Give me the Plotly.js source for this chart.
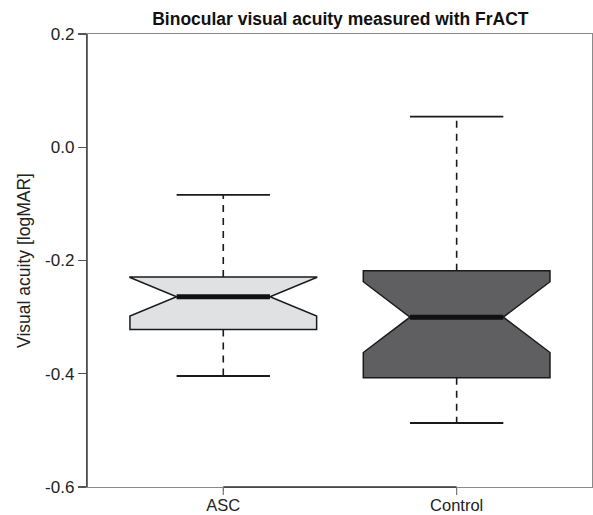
<!DOCTYPE html>
<html>
<head>
<meta charset="utf-8">
<script src="https://cdn.plot.ly/plotly-3.0.1.min.js"></script>
<style>html,body{margin:0;padding:0;background:#fff;}#chart{width:593px;height:515px;}</style>
</head>
<body>
<div id="chart"></div>
<script>
var categories = ['ASC', 'Control'];
var positions = [0, 1];
var q1 = [-0.322, -0.407];
var medians = [-0.264, -0.300];
var q3 = [-0.229, -0.218];
var lowerWhisker = [-0.404, -0.487];
var upperWhisker = [-0.084, 0.054];
var notchHalf = [0.034, 0.0625];
var fillColors = ['#e0e1e3', '#5f5f61'];
var yTickVals = [-0.6, -0.4, -0.2, 0.0, 0.2];
var yTickText = ['-0.6', '-0.4', '-0.2', '0.0', '0.2'];

var boxWidth = 0.8;
var halfInner = boxWidth / 4;
var lineCol = '#1a1a1a';
var traces = [];

categories.forEach(function (c, i) {
  var p = positions[i];
  traces.push({
    type: 'box', x: [p], q1: [q1[i]], median: [medians[i]], q3: [q3[i]],
    lowerfence: [q1[i]], upperfence: [q3[i]],
    notched: true, notchspan: [notchHalf[i]], notchwidth: 0.25,
    width: boxWidth, whiskerwidth: 0, boxpoints: false,
    fillcolor: fillColors[i], line: {color: lineCol, width: 1.5},
    hoverinfo: 'skip', showlegend: false
  });
});

categories.forEach(function (c, i) {
  var p = positions[i];
  traces.push({
    type: 'scatter', mode: 'lines',
    x: [p, p, null, p, p],
    y: [q3[i], upperWhisker[i], null, q1[i], lowerWhisker[i]],
    line: {color: lineCol, width: 1.6, dash: '7px,6px'},
    hoverinfo: 'skip', showlegend: false
  });
  traces.push({
    type: 'scatter', mode: 'lines',
    x: [p - halfInner, p + halfInner, null, p - halfInner, p + halfInner],
    y: [upperWhisker[i], upperWhisker[i], null, lowerWhisker[i], lowerWhisker[i]],
    line: {color: lineCol, width: 1.8},
    hoverinfo: 'skip', showlegend: false
  });
  traces.push({
    type: 'scatter', mode: 'lines',
    x: [p - halfInner, p + halfInner],
    y: [medians[i], medians[i]],
    line: {color: '#111111', width: 5},
    hoverinfo: 'skip', showlegend: false
  });
});

var plotH = 515 - 34 - 28;
var shapes = [
  {type: 'line', xref: 'paper', yref: 'paper', x0: 0, x1: 0, y0: 0, y1: 1,
   line: {color: '#333', width: 1.4}},
  {type: 'line', xref: 'x', yref: 'paper', x0: positions[0], x1: positions[positions.length - 1], y0: 0, y1: 0,
   line: {color: '#333', width: 1.4}}
];
positions.forEach(function (p) {
  shapes.push({type: 'line', xref: 'x', yref: 'paper', x0: p, x1: p, y0: 0, y1: -8 / plotH,
               line: {color: '#777', width: 1.2}});
});

var layout = {
  width: 593, height: 515,
  margin: {l: 87, r: 1, t: 34, b: 28, pad: 0},
  paper_bgcolor: '#ffffff', plot_bgcolor: '#ffffff',
  font: {family: 'Liberation Sans, Arial, sans-serif', size: 17, color: '#222'},
  title: {
    text: 'Binocular visual acuity measured with FrACT',
    font: {family: 'Liberation Sans, Arial, sans-serif', size: 17.5, color: '#111', weight: 'bold'},
    x: 0.574, xanchor: 'center', y: 1 - 19 / 515, yanchor: 'middle'
  },
  showlegend: false, hovermode: false,
  xaxis: {
    range: [-0.584, 1.58], tickvals: positions, ticktext: categories,
    showgrid: false, zeroline: false, showline: true, mirror: true,
    linecolor: '#8a8a8a', linewidth: 1.2,
    ticks: 'outside', ticklen: 3, tickcolor: '#777', tickwidth: 1.2,
    tickfont: {size: 16.5}
  },
  yaxis: {
    range: [-0.6, 0.2], tickvals: yTickVals, ticktext: yTickText,
    showgrid: false, zeroline: false, showline: true, mirror: true,
    linecolor: '#8a8a8a', linewidth: 1.2,
    ticks: 'outside', ticklen: 8, tickcolor: '#555', tickwidth: 1.2,
    tickfont: {size: 17},
    title: {text: 'Visual acuity [logMAR]', standoff: 10,
            font: {family: 'Liberation Sans, Arial, sans-serif', size: 17.5, color: '#222'}}
  },
  shapes: shapes
};

Plotly.newPlot('chart', traces, layout, {displayModeBar: false, staticPlot: true});
</script>
</body>
</html>
